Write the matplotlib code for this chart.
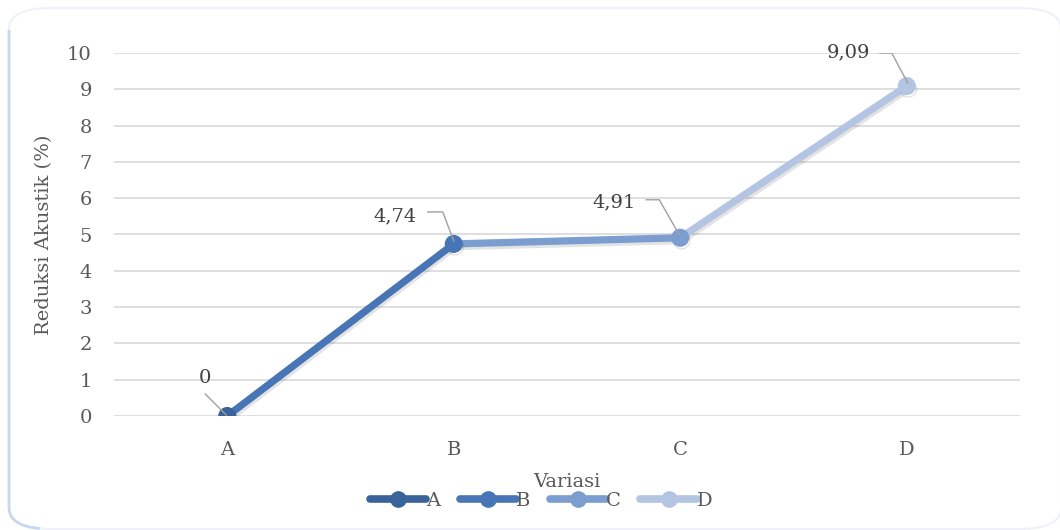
import matplotlib
matplotlib.use("Agg")
import matplotlib.pyplot as plt
import matplotlib.patheffects as pe
import matplotlib.transforms as mtransforms
from matplotlib.lines import Line2D
from matplotlib.patches import FancyBboxPatch, Rectangle

plt.rcParams["font.family"] = ["DejaVu Serif"]

categories = ["A", "B", "C", "D"]
values = [0, 4.74, 4.91, 9.09]
value_labels = ["0", "4,74", "4,91", "9,09"]
colors = ["#3A6499", "#4775B5", "#7B9DD0", "#B3C5E3"]

# data label placement in pixels relative to each point (text centre, leader path)
label_text_off = [(-22, 38), (-59, 28), (-66, 35), (-58, 34)]
leader_paths = [
    [(-22, 22), (-1, 1)],
    [(-26, 32), (-11, 32), (0, 3)],
    [(-34, 38), (-21, 38), (-1, 3)],
    [(-27, 33), (-15, 33), (1, 3)],
]

W, H = 1060, 530
fig = plt.figure(figsize=(W / 100, H / 100), dpi=100)
ax = fig.add_axes([114 / W, 1 - 416 / H, (1020 - 114) / W, (416 - 53) / H])
ax.set_xlim(-0.5, len(categories) - 0.5)
ax.set_ylim(0, 10)

# outer frame: faint all round, bluer on the left side
box_xy = (9 / W, 1 / H)
box_w, box_h = 1052 / W, 521 / H
faint = FancyBboxPatch(box_xy, box_w, box_h, boxstyle="round,pad=0,rounding_size=0.04",
                       transform=fig.transFigure, facecolor="none",
                       edgecolor="#EEF2F8", linewidth=1.5, zorder=0)
fig.patches.append(faint)
side = FancyBboxPatch(box_xy, box_w, box_h, boxstyle="round,pad=0,rounding_size=0.04",
                      transform=fig.transFigure, facecolor="none",
                      edgecolor="#C9D7EC", linewidth=2, zorder=0)
side.set_clip_path(Rectangle((0, 0), 40 / W, 500 / H, transform=fig.transFigure))
fig.patches.append(side)

x = list(range(len(categories)))
shadow = [pe.SimpleLineShadow(offset=(1, -2), alpha=0.15, shadow_color="#444444"), pe.Normal()]
for i in range(1, len(x)):
    ax.plot(x[i - 1:i + 1], values[i - 1:i + 1], color=colors[i], linewidth=5.2,
            solid_capstyle="round", zorder=3, path_effects=shadow)
for i in range(len(x)):
    ax.plot(x[i], values[i], "o", color=colors[i], markersize=12, zorder=4,
            path_effects=shadow)

for i in range(len(x)):
    tdx, tdy = label_text_off[i]
    t = mtransforms.offset_copy(ax.transData, fig=fig, x=tdx, y=tdy, units="dots")
    ax.text(x[i], values[i], value_labels[i], transform=t, ha="center", va="center",
            fontsize=14, color="#404040", zorder=5)
    xs, ys = [], []
    for px, py in leader_paths[i]:
        tt = mtransforms.offset_copy(ax.transData, fig=fig, x=px, y=py, units="dots")
        dx, dy = ax.transData.inverted().transform(tt.transform((x[i], values[i])))
        xs.append(dx)
        ys.append(dy)
    ax.plot(xs, ys, color="#A0A0A0", linewidth=1, zorder=5)

ax.set_xlim(-0.5, len(categories) - 0.5)
ax.set_ylim(0, 10)
ax.set_xticks(x)
ax.set_xticklabels(categories)
ax.set_yticks(range(0, 11))
ax.tick_params(length=0, labelsize=14, labelcolor="#595959", pad=16)
ax.tick_params(axis="x", pad=18)
ax.grid(axis="y", color="#D9D9D9", linewidth=1.2)
ax.set_axisbelow(True)
for s in ax.spines.values():
    s.set_visible(False)

ax.set_ylabel("Reduksi Akustik (%)", fontsize=14, color="#595959", labelpad=10)
ax.set_xlabel("Variasi", fontsize=14, color="#595959", labelpad=10)

handles = [Line2D([0], [0], color=c, linewidth=5.5, marker="o", markersize=11,
                  solid_capstyle="round") for c in colors]
fig.legend(handles, categories, loc="center", bbox_to_anchor=(541 / W, 1 - 501 / H),
           ncol=4, frameon=False, fontsize=14, handlelength=2.9, handletextpad=0.0,
           columnspacing=1.0, labelcolor="#595959")

fig.savefig("out.png", dpi=100, facecolor="white")
